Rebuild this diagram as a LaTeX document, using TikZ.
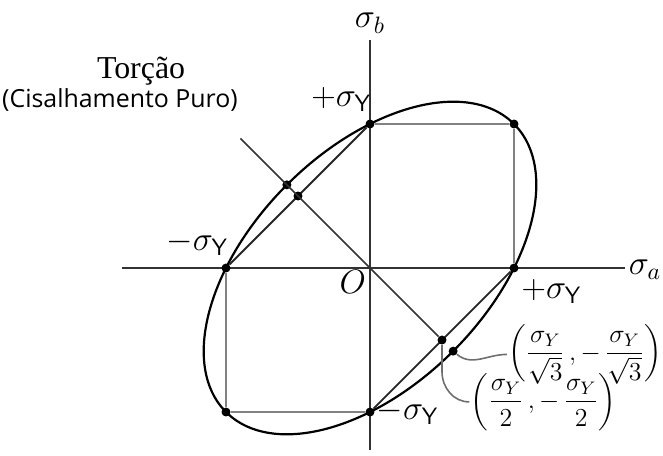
\RequirePackage{fix-cm}
\documentclass[tikz,border=0pt]{standalone}
\usepackage{amsmath}
\usepackage{fontspec}
\newfontfamily\capsans{Open Sans}
\newfontfamily\capserif{Liberation Serif}
\usepackage{tikz}
\usetikzlibrary{positioning}
\definecolor{axisgrey}{RGB}{50,50,50}
\definecolor{edgegrey}{RGB}{130,130,130}
\definecolor{leadgrey}{RGB}{110,110,110}

\begin{document}
\begin{tikzpicture}[x=1in, y=1in,
    axis/.style={axisgrey, line width=1pt},
    envelope/.style={black, line width=1.1pt},
    square/.style={edgegrey, line width=0.9pt},
    diag/.style={black!85, line width=0.9pt},
    shear/.style={axisgrey, line width=0.8pt},
    leader/.style={leadgrey, line width=0.8pt},
    dot/.style={circle, fill=black, inner sep=0pt, minimum size=4.5pt},
    lbl/.style={font=\fontsize{17}{19}\selectfont, inner sep=1pt},
    fraclbl/.style={font=\fontsize{13}{15}\selectfont, inner sep=0.5pt}]

    \useasboundingbox (-2.5694,-1.2986) rectangle (2.0347,1.8611);

    % axes
    \coordinate (O) at (0,0);
    \coordinate (aL) at (-1.722,0);
    \coordinate (aR) at (1.771,0);
    \coordinate (bB) at (0,-1.264);
    \coordinate (bT) at (0,1.583);
    \draw[axis] (aL) -- (aR);
    \draw[axis] (bB) -- (bT);

    % von Mises ellipse
    \draw[envelope, rotate=45] (O) ellipse [x radius=1.4142, y radius=0.8165];

    % Tresca hexagon corners
    \node[dot] (pa) at (1,0) {};
    \node[dot] (pab) at (1,1) {};
    \node[dot] (pb) at (0,1) {};
    \node[dot] (na) at (-1,0) {};
    \node[dot] (nab) at (-1,-1) {};
    \node[dot] (nb) at (0,-1) {};
    \draw[square] (pb) -- (pab) -- (pa);
    \draw[square] (na) -- (nab) -- (nb);
    \draw[diag] (pb) -- (na);
    \draw[diag] (pa) -- (nb);

    % pure shear line
    \node[dot] (qa) at (-0.5,0.5) {};
    \node[dot] (qb) at (0.5,-0.5) {};
    \node[dot] (ra) at (-0.5774,0.5774) {};
    \node[dot] (rb) at (0.5774,-0.5774) {};
    \coordinate (sh) at (-0.9,0.9);
    \draw[shear] (sh) -- (qb);

    % labels
    \node[lbl] (sb) at (0,1.70) {$\sigma_b$};
    \node[lbl] (sa) at (1.91,-0.01) {$\sigma_a$};
    \node[lbl] at (-0.20,1.17) {$+\sigma_{\mathsf{Y}}$};
    \node[lbl] at (-1.20,0.17) {$-\sigma_{\mathsf{Y}}$};
    \node[lbl] at (1.26,-0.16) {$+\sigma_{\mathsf{Y}}$};
    \node[lbl] at (0.26,-1.0) {$-\sigma_{\mathsf{Y}}$};
    \node[lbl] at (-0.12,-0.10) {$O$};
    \node[font=\capserif\fontsize{16}{18}\selectfont] (tor) at (-1.59,1.37) {Torção};
    \node[font=\capsans\fontsize{12.5}{14}\selectfont] (cis) at (-1.736,1.165) {(Cisalhamento Puro)};

    \node[fraclbl, anchor=west] (sqlbl) at (0.95,-0.60)
        {$\left(\dfrac{\sigma_Y}{\sqrt{3}}\,,-\,\dfrac{\sigma_Y}{\sqrt{3}}\right)$};
    \node[fraclbl, anchor=west] (hflbl) at (0.69,-0.93)
        {$\left(\dfrac{\sigma_Y}{2}\,,-\,\dfrac{\sigma_Y}{2}\right)$};
    \draw[leader] (rb) to[out=-40, in=180] (sqlbl.west);
    \draw[leader] (qb) -- ++(0,-0.22) to[out=-90, in=180] (hflbl.west);
\end{tikzpicture}
\end{document}
